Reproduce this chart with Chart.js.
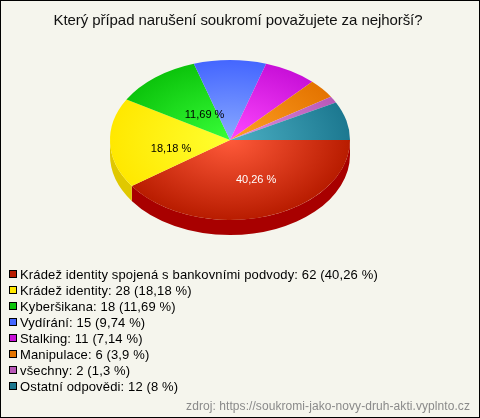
<!DOCTYPE html>
<html lang="cs">
<head>
<meta charset="utf-8">
<title>Soukromí</title>
<script src="https://cdn.jsdelivr.net/npm/chart.js@4/dist/chart.umd.min.js"></script>
<style>
  html, body { margin: 0; padding: 0; }
  #box {
    position: relative;
    width: 480px;
    height: 418px;
    box-sizing: border-box;
    border: 1px solid #000;
    background: #f5f5ed;
    overflow: hidden;
    font-family: "Liberation Sans", Arial, sans-serif;
    color: #000;
  }
  #pie { position: absolute; left: -1px; top: -1px; }
  #title {
    position: absolute;
    left: -2px;
    top: 10px;
    width: 478px;
    text-align: center;
    font-size: 15px;
    letter-spacing: -0.07px;
    line-height: 18px;
    color: #111;
  }
  #legend {
    position: absolute;
    left: 8px;
    top: 266px;
    margin: 0;
    padding: 0;
    list-style: none;
    font-size: 13px;
    letter-spacing: 0.14px;
    line-height: 16px;
    white-space: nowrap;
  }
  #legend li { height: 16px; }
  #legend i {
    display: inline-block;
    width: 6px;
    height: 6px;
    margin-right: 3px;
    border: 1px solid #000;
    vertical-align: 1px;
  }
  #source {
    position: absolute;
    right: 9px;
    top: 398px;
    font-size: 12px;
    letter-spacing: 0.07px;
    line-height: 14px;
    color: #8a8a8a;
  }
</style>
</head>
<body>
<div id="box">
  <canvas id="pie" width="480" height="418"></canvas>
  <div id="title"></div>
  <ul id="legend"></ul>
  <div id="source"></div>
</div>
<script>
const chartTitle = "Který případ narušení soukromí považujete za nejhorší?";
const sourceText = "zdroj: https://soukromi-jako-novy-druh-akti.vyplnto.cz";
const categories = ["Krádež identity spojená s bankovními podvody", "Krádež identity", "Kyberšikana", "Vydírání", "Stalking", "Manipulace", "všechny", "Ostatní odpovědi"];
const counts = [62, 28, 18, 15, 11, 6, 2, 12];
const percentLabels = ["40,26", "18,18", "11,69", "9,74", "7,14", "3,9", "1,3", "8"];
const innerColors = ["#ff5a3a", "#ffff30", "#38ff38", "#8aaaff", "#ff48ff", "#ffa024", "#e090e0", "#4cb0c4"];
const outerColors = ["#b81c00", "#ffe800", "#0cc40c", "#4466ff", "#c810d8", "#e47400", "#b858b8", "#1c7890"];
const sideColors = ["#a80000", "#e0c800", "#0a9a0a", "#3050c0", "#a000a8", "#b85c00", "#904090", "#145a6c"];
const labelColors = ["#fff", "#000", "#000"];
const labelMin = 10; // smaller slices have no label in the pie

const SQUASH = 2 / 3;
const DEPTH = 15;
// small pixel nudges of the pie labels, the original does not centre them
const LABEL_SHIFT = [[8, 2], [1, 7], [12, 6]];

document.getElementById("title").textContent = chartTitle;
document.getElementById("source").textContent = sourceText;

// Legend
const legendList = document.getElementById("legend");
categories.forEach((name, i) => {
  const li = document.createElement("li");
  const swatch = document.createElement("i");
  swatch.style.background = outerColors[i];
  li.appendChild(swatch);
  li.appendChild(document.createTextNode(`${name}: ${counts[i]} (${percentLabels[i]} %)`));
  legendList.appendChild(li);
});

function sliceFill(context) {
  const i = context.dataIndex;
  const area = context.chart.chartArea;
  if (!area) return outerColors[i];
  const cx = (area.left + area.right) / 2;
  const cy = (area.top + area.bottom) / 2;
  const r = (area.right - area.left) / 2;
  const g = context.chart.ctx.createRadialGradient(cx, cy, 0, cx, cy, r);
  g.addColorStop(0, innerColors[i]);
  g.addColorStop(1, outerColors[i]);
  return g;
}

// Flattens the pie to an ellipse and draws the rim under it
const tiltPlugin = {
  id: "tilt",
  beforeDatasetsDraw(chart) {
    const ctx = chart.ctx;
    const arcs = chart.getDatasetMeta(0).data;
    const { x, y } = arcs[0];
    ctx.save();
    ctx.translate(x, y);
    ctx.scale(1, SQUASH);
    ctx.translate(-x, -y);
    const drop = DEPTH / SQUASH;
    arcs.forEach((arc, i) => {
      const from = Math.max(arc.startAngle, 0);
      const to = Math.min(arc.endAngle, Math.PI);
      if (to <= from) return;
      ctx.beginPath();
      ctx.arc(x, y + drop, arc.outerRadius, from, to);
      ctx.arc(x, y, arc.outerRadius, to, from, true);
      ctx.closePath();
      ctx.fillStyle = sideColors[i];
      ctx.fill();
    });
  },
  afterDatasetsDraw(chart) {
    const ctx = chart.ctx;
    ctx.restore();
    const arcs = chart.getDatasetMeta(0).data;
    const total = counts.reduce((a, b) => a + b, 0);
    ctx.save();
    ctx.font = '11px "Liberation Sans", Arial, sans-serif';
    ctx.textAlign = "center";
    ctx.textBaseline = "middle";
    arcs.forEach((arc, i) => {
      if (counts[i] / total * 100 < labelMin) return;
      const p = arc.getCenterPoint();
      const [dx, dy] = LABEL_SHIFT[i];
      ctx.fillStyle = labelColors[i];
      ctx.fillText(`${percentLabels[i]} %`, p.x + dx, arc.y + (p.y - arc.y) * SQUASH + dy);
    });
    ctx.restore();
  },
};

new Chart(document.getElementById("pie"), {
  type: "pie",
  data: {
    labels: categories,
    datasets: [{
      data: counts,
      backgroundColor: sliceFill,
      borderWidth: 0,
    }],
  },
  options: {
    responsive: false,
    animation: false,
    rotation: 90,
    layout: { padding: { left: 110, right: 130, top: 20, bottom: 158 } },
    plugins: {
      legend: { display: false },
      tooltip: { enabled: false },
    },
  },
  plugins: [tiltPlugin],
});
</script>
</body>
</html>
